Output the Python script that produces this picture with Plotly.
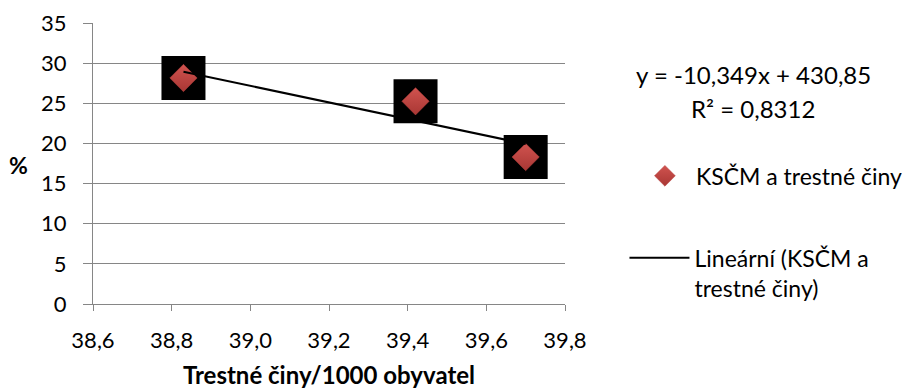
import numpy as np
import plotly.graph_objects as go

# data
crime_rate = [38.83, 39.42, 39.70]      # Trestné činy/1000 obyvatel
kscm_share = [28.15, 25.25, 18.3]       # %

series_name = "KSČM a trestné činy"
trend_name = "Lineární (KSČM a<br>trestné činy)"
eq_lines = ["y = -10,349x + 430,85", "R² = 0,8312"]

slope, intercept = np.polyfit(crime_rate, kscm_share, 1)
trend_x = [min(crime_rate), max(crime_rate)]
trend_y = [slope * v + intercept for v in trend_x]

FONT = "Lato"
fs = 22       # tick labels
fs_txt = 23   # legend, equation

fig = go.Figure()

# black squares behind the points
fig.add_trace(go.Scatter(
    x=crime_rate, y=kscm_share, mode="markers",
    marker=dict(symbol="square", size=44, color="black"),
    showlegend=False, hoverinfo="skip"))

fig.add_trace(go.Scatter(
    x=crime_rate, y=kscm_share, mode="markers", name=series_name,
    marker=dict(symbol="diamond", size=21, color="#D0534F",
                gradient=dict(type="vertical", color="#A93734"),
                line=dict(color="#B8413E", width=0.5)),
    legend="legend"))

fig.add_trace(go.Scatter(
    x=trend_x, y=trend_y, mode="lines", name=trend_name,
    line=dict(color="black", width=2),
    legend="legend2"))

# page body has an 8px margin, so pull the figure up/left by 8px
fig.update_layout(
    width=910, height=391,
    margin=dict(l=85, r=353, t=15, b=95, autoexpand=False),
    plot_bgcolor="white", paper_bgcolor="white",
    separators=", ",
    font=dict(family=FONT, size=fs, color="black"),
    legend=dict(x=1.146, y=0.456, xanchor="left", yanchor="middle",
                itemwidth=52,
                font=dict(size=fs_txt), bgcolor="rgba(0,0,0,0)"),
    legend2=dict(x=1.126, y=0.111, xanchor="left", yanchor="middle",
                 itemwidth=60, valign="top",
                 font=dict(size=fs_txt), bgcolor="rgba(0,0,0,0)"),
    xaxis=dict(range=[38.6, 39.8], dtick=0.2, tick0=38.6, tickformat=".1f",
               showgrid=False, showline=True, linecolor="#868686", linewidth=1,
               ticks="outside", ticklen=6, tickcolor="#868686", zeroline=False,
               ticklabelstandoff=11, automargin=False,
               title=dict(text="<b>Trestné činy/1000 obyvatel</b>",
                          font=dict(size=24), standoff=14)),
    yaxis=dict(range=[0, 35], dtick=5, showgrid=True, gridcolor="#868686",
               gridwidth=1, showline=True, linecolor="#868686", linewidth=1,
               ticks="outside", ticklen=9, tickcolor="#868686", zeroline=False,
               ticklabelstandoff=12, automargin=False),
    annotations=[
        dict(text="<b>%</b>", xref="paper", yref="paper", x=-0.157, y=0.495,
             showarrow=False, font=dict(size=fs_txt), xanchor="center",
             yanchor="middle"),
        dict(text=eq_lines[0], xref="paper", yref="paper", x=1.399, y=0.818,
             showarrow=False, font=dict(size=24), xanchor="center",
             yanchor="middle"),
        dict(text=eq_lines[1], xref="paper", yref="paper", x=1.399, y=0.694,
             showarrow=False, font=dict(size=24), xanchor="center",
             yanchor="middle"),
    ],
)

fig.write_html("out.html")
